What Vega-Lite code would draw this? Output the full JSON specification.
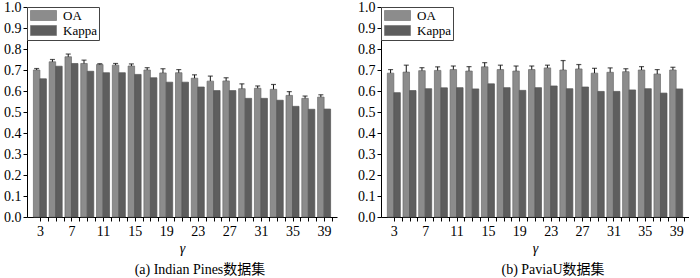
{
  "$schema": "https://vega.github.io/schema/vega-lite/v6.json",
  "padding": {"left": 3, "top": 0, "right": 0, "bottom": 0},
  "background": "white",
  "datasets": {
    "indian": [
      {"gamma": 3, "OA": 0.700, "OA_hi": 0.707, "Kappa": 0.658},
      {"gamma": 5, "OA": 0.739, "OA_hi": 0.750, "Kappa": 0.718},
      {"gamma": 7, "OA": 0.763, "OA_hi": 0.776, "Kappa": 0.731},
      {"gamma": 9, "OA": 0.731, "OA_hi": 0.747, "Kappa": 0.694},
      {"gamma": 11, "OA": 0.726, "OA_hi": 0.730, "Kappa": 0.687},
      {"gamma": 13, "OA": 0.723, "OA_hi": 0.731, "Kappa": 0.687},
      {"gamma": 15, "OA": 0.719, "OA_hi": 0.729, "Kappa": 0.679},
      {"gamma": 17, "OA": 0.700, "OA_hi": 0.711, "Kappa": 0.663},
      {"gamma": 19, "OA": 0.686, "OA_hi": 0.706, "Kappa": 0.642},
      {"gamma": 21, "OA": 0.687, "OA_hi": 0.702, "Kappa": 0.642},
      {"gamma": 23, "OA": 0.661, "OA_hi": 0.677, "Kappa": 0.619},
      {"gamma": 25, "OA": 0.647, "OA_hi": 0.671, "Kappa": 0.602},
      {"gamma": 27, "OA": 0.648, "OA_hi": 0.663, "Kappa": 0.602},
      {"gamma": 29, "OA": 0.611, "OA_hi": 0.634, "Kappa": 0.565},
      {"gamma": 31, "OA": 0.613, "OA_hi": 0.624, "Kappa": 0.565},
      {"gamma": 33, "OA": 0.608, "OA_hi": 0.631, "Kappa": 0.556},
      {"gamma": 35, "OA": 0.579, "OA_hi": 0.597, "Kappa": 0.527},
      {"gamma": 37, "OA": 0.565, "OA_hi": 0.576, "Kappa": 0.513},
      {"gamma": 39, "OA": 0.571, "OA_hi": 0.582, "Kappa": 0.514}
    ],
    "pavia": [
      {"gamma": 3, "OA": 0.685, "OA_hi": 0.702, "Kappa": 0.592},
      {"gamma": 5, "OA": 0.690, "OA_hi": 0.723, "Kappa": 0.602},
      {"gamma": 7, "OA": 0.697, "OA_hi": 0.711, "Kappa": 0.611},
      {"gamma": 9, "OA": 0.698, "OA_hi": 0.715, "Kappa": 0.615},
      {"gamma": 11, "OA": 0.702, "OA_hi": 0.719, "Kappa": 0.616},
      {"gamma": 13, "OA": 0.695, "OA_hi": 0.716, "Kappa": 0.610},
      {"gamma": 15, "OA": 0.715, "OA_hi": 0.735, "Kappa": 0.634},
      {"gamma": 17, "OA": 0.702, "OA_hi": 0.723, "Kappa": 0.616},
      {"gamma": 19, "OA": 0.695, "OA_hi": 0.719, "Kappa": 0.603},
      {"gamma": 21, "OA": 0.702, "OA_hi": 0.719, "Kappa": 0.616},
      {"gamma": 23, "OA": 0.710, "OA_hi": 0.723, "Kappa": 0.624},
      {"gamma": 25, "OA": 0.700, "OA_hi": 0.745, "Kappa": 0.611},
      {"gamma": 27, "OA": 0.705, "OA_hi": 0.726, "Kappa": 0.619},
      {"gamma": 29, "OA": 0.685, "OA_hi": 0.708, "Kappa": 0.598},
      {"gamma": 31, "OA": 0.689, "OA_hi": 0.710, "Kappa": 0.598},
      {"gamma": 33, "OA": 0.692, "OA_hi": 0.706, "Kappa": 0.605},
      {"gamma": 35, "OA": 0.700, "OA_hi": 0.716, "Kappa": 0.611},
      {"gamma": 37, "OA": 0.681, "OA_hi": 0.702, "Kappa": 0.590},
      {"gamma": 39, "OA": 0.700, "OA_hi": 0.713, "Kappa": 0.610}
    ]
  },
  "spacing": 20,
  "resolve": {"scale": {"fill": "independent"}, "legend": {"fill": "independent"}},
  "hconcat": [
    {
      "width": 310,
      "height": 210,
      "data": {"name": "indian"},
      "title": {"text": "(a) Indian Pines数据集", "orient": "bottom", "dx": 18, "offset": 8},
      "encoding": {
        "x": {"field": "gamma", "type": "quantitative", "scale": {"domain": [2, 40], "nice": false, "zero": false},
              "axis": {"values": [3,4,5,6,7,8,9,10,11,12,13,14,15,16,17,18,19,20,21,22,23,24,25,26,27,28,29,30,31,32,33,34,35,36,37,38,39,40],
                       "labelOverlap": false,
                       "labelExpr": "(datum.value - 3) % 4 == 0 ? datum.label : ''", "title": "γ"}},
        "y": {"field": "OA", "type": "quantitative", "scale": {"domain": [0, 1], "nice": false},
              "axis": {"values": [0,0.1,0.2,0.3,0.4,0.5,0.6,0.7,0.8,0.9,1.0], "format": ".1f", "labelOverlap": false, "title": null}}
      },
      "layer": [
        {"mark": {"type": "bar", "width": 6.5, "xOffset": -3.25, "stroke": "#6a6a6a", "strokeWidth": 0.7},
         "encoding": {
           "fill": {"datum": "OA", "scale": {"domain": ["OA", "Kappa"], "range": ["#8c8c8c", "#5e5e5e"]}, "title": null}
         }},
        {"mark": {"type": "rule", "xOffset": -3.25, "color": "#111", "strokeWidth": 1},
         "encoding": {"y2": {"field": "OA_hi"}}},
        {"mark": {"type": "tick", "orient": "horizontal", "xOffset": -3.25, "color": "#111", "size": 5, "thickness": 1.2},
         "encoding": {"y": {"field": "OA_hi", "type": "quantitative"}}},
        {"mark": {"type": "bar", "width": 6.5, "xOffset": 3.25, "stroke": "#555555", "strokeWidth": 0.7},
         "encoding": {
           "y": {"field": "Kappa", "type": "quantitative"},
           "fill": {"datum": "Kappa", "scale": {"domain": ["OA", "Kappa"], "range": ["#8c8c8c", "#5e5e5e"]}, "title": null}
         }}
      ]
    },
    {
      "width": 308,
      "height": 210,
      "data": {"name": "pavia"},
      "title": {"text": "(b) PaviaU数据集", "orient": "bottom", "dx": 18, "offset": 8},
      "encoding": {
        "x": {"field": "gamma", "type": "quantitative", "scale": {"domain": [2, 40], "nice": false, "zero": false},
              "axis": {"values": [3,4,5,6,7,8,9,10,11,12,13,14,15,16,17,18,19,20,21,22,23,24,25,26,27,28,29,30,31,32,33,34,35,36,37,38,39,40],
                       "labelOverlap": false,
                       "labelExpr": "(datum.value - 3) % 4 == 0 ? datum.label : ''", "title": "γ"}},
        "y": {"field": "OA", "type": "quantitative", "scale": {"domain": [0, 1], "nice": false},
              "axis": {"values": [0,0.1,0.2,0.3,0.4,0.5,0.6,0.7,0.8,0.9,1.0], "format": ".1f", "labelOverlap": false, "title": null}}
      },
      "layer": [
        {"mark": {"type": "bar", "width": 6.5, "xOffset": -3.25, "stroke": "#6a6a6a", "strokeWidth": 0.7},
         "encoding": {
           "fill": {"datum": "OA", "scale": {"domain": ["OA", "Kappa"], "range": ["#8c8c8c", "#5e5e5e"]}, "title": null}
         }},
        {"mark": {"type": "rule", "xOffset": -3.25, "color": "#111", "strokeWidth": 1},
         "encoding": {"y2": {"field": "OA_hi"}}},
        {"mark": {"type": "tick", "orient": "horizontal", "xOffset": -3.25, "color": "#111", "size": 5, "thickness": 1.2},
         "encoding": {"y": {"field": "OA_hi", "type": "quantitative"}}},
        {"mark": {"type": "bar", "width": 6.5, "xOffset": 3.25, "stroke": "#555555", "strokeWidth": 0.7},
         "encoding": {
           "y": {"field": "Kappa", "type": "quantitative"},
           "fill": {"datum": "Kappa", "scale": {"domain": ["OA", "Kappa"], "range": ["#8c8c8c", "#5e5e5e"]}, "title": null}
         }}
      ]
    }
  ],
  "config": {
    "view": {"stroke": null},
    "font": "Liberation Serif",
    "axis": {"grid": false, "domainColor": "#000", "tickColor": "#000", "labelColor": "#000", "labelFont": "Liberation Serif", "labelFontSize": 14, "tickSize": 4, "labelPadding": 2, "labelOverlap": false, "titleFont": "Liberation Serif", "titleFontSize": 14, "titleFontWeight": "normal", "titleFontStyle": "italic", "titleColor": "#000"},
    "axisX": {"labelPadding": 3, "titlePadding": 3, "labelFlush": false},
    "legend": {"orient": "top-left", "offset": 0, "strokeColor": "#444", "padding": 2, "symbolType": "M-2.6,-1H2.6V1H-2.6Z", "symbolSize": 100, "symbolOffset": 8, "symbolStrokeColor": "#777", "symbolStrokeWidth": 0.7, "labelFont": "Liberation Serif", "labelFontSize": 13, "labelColor": "#000", "labelOffset": 13, "rowPadding": 1, "fillColor": "white"},
    "title": {"font": "'Liberation Serif', 'Noto Sans CJK SC', serif", "fontSize": 14, "fontWeight": "normal", "color": "#000"}
  }
}
